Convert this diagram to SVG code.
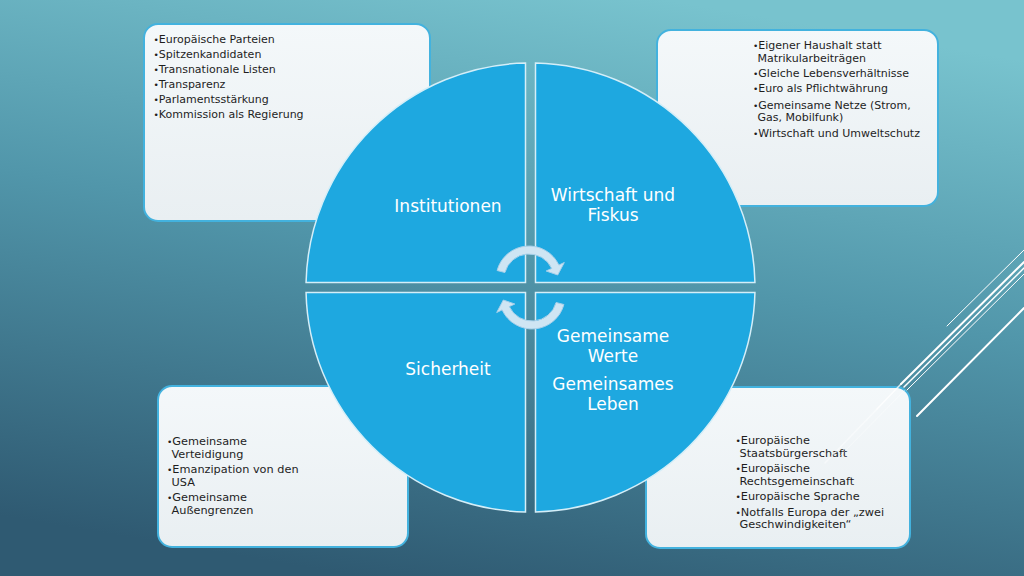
<svg xmlns="http://www.w3.org/2000/svg" width="1024" height="576" viewBox="0 0 1024 576">
<defs>
<linearGradient id="bg" x1="0.65" y1="0" x2="0.35" y2="1">
<stop offset="0" stop-color="#78c3ce"/>
<stop offset="0.45" stop-color="#5196aa"/>
<stop offset="1" stop-color="#2f5a72"/>
</linearGradient>
<linearGradient id="boxfill" x1="0" y1="0" x2="0" y2="1">
<stop offset="0" stop-color="#f4f8fa"/>
<stop offset="1" stop-color="#e9eff2"/>
</linearGradient>
<style>
.box{fill:url(#boxfill);stroke:#43b2de;stroke-width:2}
.q{fill:#1ea8e0;stroke:#d4eef8;stroke-width:1.5}
.ql{font-family:"DejaVu Sans",sans-serif;font-size:17px;fill:#ffffff;text-anchor:middle}
.bt{font-family:"DejaVu Sans",sans-serif;font-size:11px;fill:#1e1e1e}
.bt2{font-family:"DejaVu Sans",sans-serif;font-size:11.3px;fill:#1e1e1e}
.b{font-size:9px}
.arr{fill:#cfe5f3;stroke:#a6d0ea;stroke-width:1}
.dl{stroke:#ffffff;fill:none;stroke-linecap:round}
</style>
</defs>
<rect width="1024" height="576" fill="url(#bg)"/>

<g id="box-institutionen">
<rect class="box" x="144" y="24" width="286" height="197" rx="14"/>
<text class="bt" x="153.5" y="43"><tspan class="b">•</tspan>Europäische Parteien</text>
<text class="bt" x="153.5" y="58"><tspan class="b">•</tspan>Spitzenkandidaten</text>
<text class="bt" x="153.5" y="73"><tspan class="b">•</tspan>Transnationale Listen</text>
<text class="bt" x="153.5" y="88"><tspan class="b">•</tspan>Transparenz</text>
<text class="bt" x="153.5" y="103"><tspan class="b">•</tspan>Parlamentsstärkung</text>
<text class="bt" x="153.5" y="118"><tspan class="b">•</tspan>Kommission als Regierung</text>
</g>

<g id="box-wirtschaft">
<rect class="box" x="657" y="30" width="281" height="176" rx="14"/>
<text class="bt" x="753" y="49"><tspan class="b">•</tspan>Eigener Haushalt statt</text>
<text class="bt" x="757.5" y="61.5">Matrikularbeiträgen</text>
<text class="bt" x="753" y="76.5"><tspan class="b">•</tspan>Gleiche Lebensverhältnisse</text>
<text class="bt" x="753" y="92"><tspan class="b">•</tspan>Euro als Pflichtwährung</text>
<text class="bt" x="753" y="108.5"><tspan class="b">•</tspan>Gemeinsame Netze (Strom,</text>
<text class="bt" x="757.5" y="121">Gas, Mobilfunk)</text>
<text class="bt" x="753" y="136.5"><tspan class="b">•</tspan>Wirtschaft und Umweltschutz</text>
</g>

<g id="box-sicherheit">
<rect class="box" x="158" y="386" width="250" height="161" rx="14"/>
<text class="bt2" x="167" y="444.5"><tspan class="b">•</tspan>Gemeinsame</text>
<text class="bt2" x="171.5" y="457.5">Verteidigung</text>
<text class="bt2" x="167" y="472.5"><tspan class="b">•</tspan>Emanzipation von den</text>
<text class="bt2" x="171.5" y="485.5">USA</text>
<text class="bt2" x="167" y="500.5"><tspan class="b">•</tspan>Gemeinsame</text>
<text class="bt2" x="171.5" y="513.5">Außengrenzen</text>
</g>

<g id="box-werte">
<rect class="box" x="646" y="387" width="264" height="161" rx="14"/>
<text class="bt2" x="735.5" y="443.5"><tspan class="b">•</tspan>Europäische</text>
<text class="bt2" x="739.5" y="456.5">Staatsbürgerschaft</text>
<text class="bt2" x="735.5" y="471.5"><tspan class="b">•</tspan>Europäische</text>
<text class="bt2" x="739.5" y="484.5">Rechtsgemeinschaft</text>
<text class="bt2" x="735.5" y="499.5"><tspan class="b">•</tspan>Europäische Sprache</text>
<text class="bt2" x="735.5" y="515.5"><tspan class="b">•</tspan>Notfalls Europa der „zwei</text>
<text class="bt2" x="739.5" y="528">Geschwindigkeiten“</text>
</g>

<g id="deco-lines">
<line class="dl" x1="947" y1="326" x2="1024" y2="250" stroke="#a9d8e6" stroke-width="1"/>
<line class="dl" x1="901" y1="384" x2="1024" y2="262" stroke-width="2"/>
<line class="dl" x1="904" y1="387" x2="1024" y2="268" stroke-width="1.5"/>
<line class="dl" x1="907" y1="390" x2="1024" y2="274" stroke="#c4e6f0" stroke-width="1"/>
<line class="dl" x1="917" y1="416" x2="1024" y2="308" stroke-width="2"/>
<line class="dl" x1="901" y1="384" x2="877" y2="409" stroke-width="1.5" opacity="0.8"/>
<line class="dl" x1="877" y1="409" x2="825" y2="463" stroke-width="1.5" opacity="0.45"/>
<line class="dl" x1="905" y1="390" x2="838" y2="458" stroke-width="1" opacity="0.4"/>
</g>

<g id="node-institutionen">
<path class="q" d="M525.5,282.5 L525.5,63.06 A224.5,224.5 0 0 0 306.06,282.5 Z"/>
<text class="ql" x="448" y="212">Institutionen</text>
</g>
<g id="node-wirtschaft">
<path class="q" d="M535.5,282.5 L754.94,282.5 A224.5,224.5 0 0 0 535.5,63.06 Z"/>
<text class="ql" x="613" y="201">Wirtschaft und</text>
<text class="ql" x="613" y="221">Fiskus</text>
</g>
<g id="node-sicherheit">
<path class="q" d="M525.5,292.5 L306.06,292.5 A224.5,224.5 0 0 0 525.5,511.94 Z"/>
<text class="ql" x="448" y="375">Sicherheit</text>
</g>
<g id="node-werte">
<path class="q" d="M535.5,292.5 L535.5,511.94 A224.5,224.5 0 0 0 754.94,292.5 Z"/>
<text class="ql" x="613" y="342">Gemeinsame</text>
<text class="ql" x="613" y="362">Werte</text>
<text class="ql" x="613" y="390">Gemeinsames</text>
<text class="ql" x="613" y="410">Leben</text>
</g>

<g id="connectors">
<path class="arr" d="M497.1,270.5 A33,33 0 0 1 558.9,265.1 L564.3,262.5 L557.7,275 L546.2,271 L551.7,268.4 A25,25 0 0 0 504.9,272.5 Z"/>
<path class="arr" transform="rotate(180 530.5 287.5)" d="M497.1,270.5 A33,33 0 0 1 558.9,265.1 L564.3,262.5 L557.7,275 L546.2,271 L551.7,268.4 A25,25 0 0 0 504.9,272.5 Z"/>
</g>
</svg>
